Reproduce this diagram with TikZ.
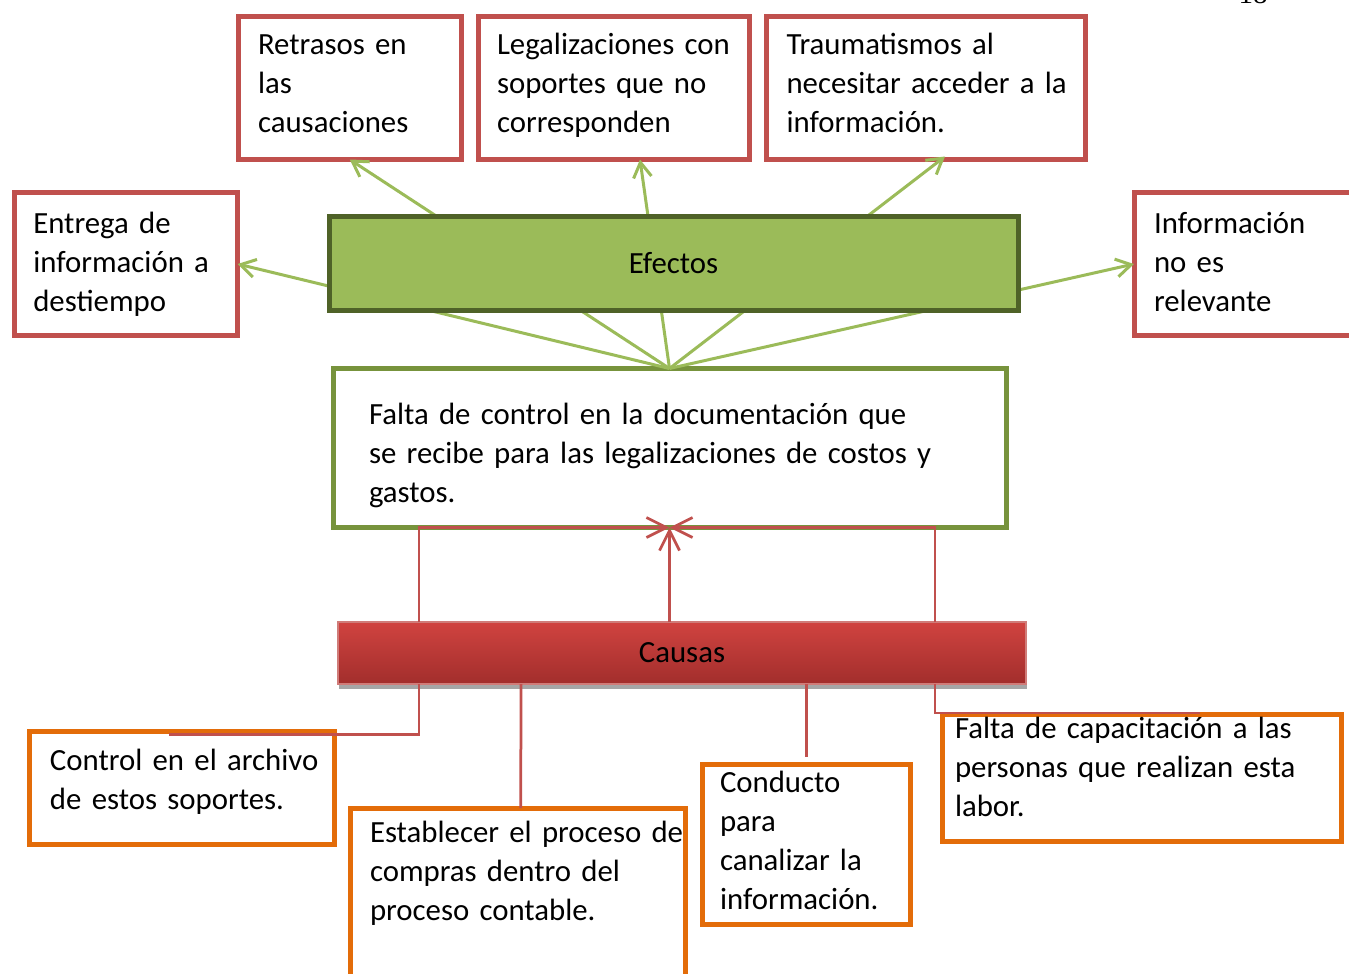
\documentclass[tikz,border=0pt]{standalone}
\usepackage{fontspec}
\setmainfont{Carlito}
\newfontfamily\numfont{Liberation Serif}
\usetikzlibrary{arrows.meta,shadows}
\definecolor{effred}{RGB}{192,80,77}
\definecolor{effgreen}{RGB}{155,187,89}
\definecolor{effdark}{RGB}{79,98,40}
\definecolor{probgreen}{RGB}{119,147,60}
\definecolor{causetop}{RGB}{208,67,64}
\definecolor{causebottom}{RGB}{162,46,44}
\definecolor{causeorange}{RGB}{227,108,9}

\begin{document}
\begin{tikzpicture}[
			x=1pt, y=-1pt,
			cell/.style={
				draw,
				line width=5pt,
				fill=white,
				anchor=north west,
				inner sep=0pt,
				outer sep=0pt,
				align=left,
				font=\fontsize{30.8}{39}\selectfont,
				execute at begin node={\leftskip=#1\rightskip=-20pt plus 1fil}
			},
			cell/.default=20pt,
			effect/.style={cell=#1, draw=effred},
			effect/.default=20pt,
			cause/.style={cell=#1, draw=causeorange},
			cause/.default=20pt,
			bar/.style={
				inner sep=0pt,
				outer sep=0pt,
				font=\fontsize{30.8}{39}\selectfont
			},
			spread/.style={
				-{Straight Barb[length=15pt,width=18pt]},
				line width=3pt,
				draw=effgreen
			},
			feed/.style={
				-{Straight Barb[length=20pt,width=20pt]},
				line width=2.75pt,
				draw=effred
			},
			link/.style={
				line width=2.75pt,
				draw=effred
			}
			]
			
			\useasboundingbox (0,0) rectangle (1349,974);
			
			% Page number
			\node[font=\numfont\fontsize{29}{30}\selectfont, anchor=base, inner sep=0pt] (pagenum) at (1253,4) {18};
			
			% Effects
			\node[effect, text width=223.5pt, text height=38.5pt, text depth=104.5pt] (retrasos) at (238,16.5) {%
				Retrasos en\\
				las\\
				causaciones
			};
			
			\node[effect=18.5pt, text width=271pt, text height=38.5pt, text depth=104.5pt] (legal) at (478.5,16.5) {%
				Legalizaciones con\\
				soportes que no\\
				corresponden
			};
			
			\node[effect, text width=319pt, text height=38.5pt, text depth=104.5pt] (trauma) at (766.5,16.5) {%
				Traumatismos al\\
				necesitar acceder a la\\
				información.
			};
			
			\node[effect=19.3pt, text width=223.5pt, text height=40.5pt, text depth=102.5pt] (entrega) at (14,192.5) {%
				Entrega de\\
				información a\\
				destiempo
			};
			
			\node[effect, text width=240pt, text height=40.5pt, text depth=102.5pt] (info) at (1134,192.5) {%
				Información\\
				no es\\
				relevante
			};
			
			% Central problem
			\node[cell=36pt, draw=probgreen, text width=673pt, text height=55.5pt, text depth=103.5pt] (main) at (333,368.5) {%
				Falta de control en la documentación que\\
				se recibe para las legalizaciones de costos y\\
				gastos.
			};
			
			% Effect arrows
			\draw[spread] (main.north) -- (retrasos.south);
			\draw[spread] (main.north) -- ([xshift=26pt]legal.south);
			\draw[spread] (main.north) -- ([xshift=19pt,yshift=3pt]trauma.south);
			\draw[spread] (main.north) -- (entrega.east);
			\draw[spread] (main.north) -- (info.west);
			
			% Headers
			\node[bar, draw=effdark, line width=5pt, fill=effgreen, minimum width=689pt, minimum height=94pt] (efectos) at (673.5,263.5) {Efectos};
			
			\node[bar, draw=effred!75!white, line width=1.5pt, top color=causetop, bottom color=causebottom,
				drop shadow={shadow xshift=1pt, shadow yshift=-5pt, fill=black!35, opacity=1},
				minimum width=688pt, minimum height=62pt] (causas) at (682,653) {Causas};
			
			% Cause arrows
			\draw[feed] (main.south |- causas.north) -- (main.south);
			\draw[feed] ([xshift=81pt]causas.north west) |- (main.south);
			\draw[feed] ([xshift=-91pt]causas.north east) |- (main.south);
			
			% Causes
			\node[cause=20.5pt, text width=305pt, text height=38.5pt, text depth=74.5pt] (control) at (29.5,731.5) {%
				Control en el archivo\\
				de estos soportes.
			};
			
			\node[cause=19.5pt, text width=334.5pt, text height=34pt, text depth=166pt] (establ) at (350.5,808) {%
				Establecer el proceso de\\
				compras dentro del\\
				proceso contable.
			};
			
			\node[cause=17.4pt, text width=207.4pt, text height=28pt, text depth=132pt] (conducto) at (702.6,764) {%
				Conducto\\
				para\\
				canalizar la\\
				información.
			};
			
			\node[cause=12.5pt, text width=399pt, text height=23.5pt, text depth=103.5pt] (capac) at (942.5,714.5) {%
				Falta de capacitación a las\\
				personas que realizan esta\\
				labor.
			};
			
			% Cause links
			\draw[link] ([xshift=81pt]causas.south west) |- ([xshift=-13pt,yshift=-3pt]control.north);
			\draw[link] ([xshift=183pt]causas.south west) -- ([xshift=3pt]establ.north);
			\draw[link] (conducto.north |- causas.south) -- ([yshift=7pt]conducto.north);
			\draw[link] ([xshift=-91pt]causas.south east) |- ([xshift=58pt,yshift=1.5pt]capac.north);
			
		\end{tikzpicture}
\end{document}
